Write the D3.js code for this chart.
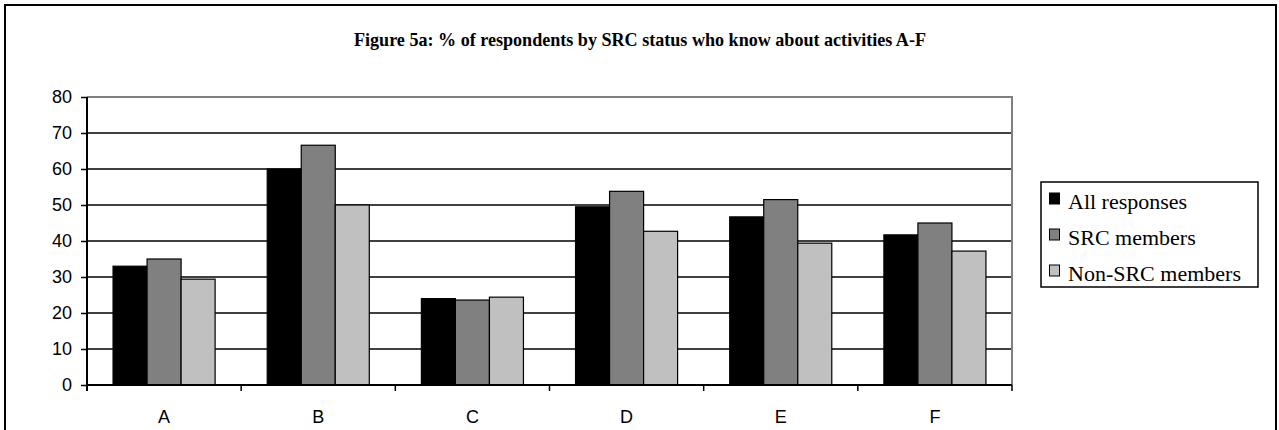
<!DOCTYPE html>
<html><head><meta charset="utf-8">
<script src="https://cdn.jsdelivr.net/npm/d3@7"></script>
<style>html,body{margin:0;padding:0;background:#fff;}svg{display:block;}</style>
</head><body>
<svg id="chart" width="1279" height="430"></svg>
<script>
const categories = ["A", "B", "C", "D", "E", "F"];
const seriesNames = ["All responses", "SRC members", "Non-SRC members"];
const allResponses = [33, 60, 24, 49.5, 46.7, 41.7];
const srcMembers = [35, 66.6, 23.6, 53.8, 51.5, 45];
const nonSrcMembers = [29.4, 50, 24.4, 42.7, 39.4, 37.2];
const yTicks = [0, 10, 20, 30, 40, 50, 60, 70, 80];
const titleText = "Figure 5a: % of respondents by SRC status who know about activities A-F";

(function () {
const seriesValues = [allResponses, srcMembers, nonSrcMembers];
const fills = ["#000000", "#808080", "#c0c0c0"];

const svg = d3.select("#chart");
// outer frame
svg.append("rect").attr("x", 5).attr("y", 5).attr("width", 1271).attr("height", 440)
  .attr("fill", "none").attr("stroke", "#000").attr("stroke-width", 2);

// title
svg.append("text").attr("x", 640).attr("y", 46).attr("text-anchor", "middle")
  .attr("font-family", "Liberation Serif, serif").attr("font-weight", "bold")
  .attr("font-size", 19.5).attr("textLength", 572).attr("lengthAdjust", "spacingAndGlyphs")
  .text(titleText);

const pl = 87, pr = 1012, pt = 97, pb = 385;
const x = d3.scaleBand().domain(categories).range([pl, pr]).paddingInner(0.338).paddingOuter(0.169);
const xs = d3.scaleBand().domain(seriesNames).range([0, x.bandwidth()]);
const y = d3.scaleLinear().domain([0, 80]).range([pb, pt]);

// gridlines
svg.append("g").selectAll("line").data(yTicks.filter(t => t > 0 && t < 80)).join("line")
  .attr("x1", pl).attr("x2", pr).attr("y1", d => y(d)).attr("y2", d => y(d))
  .attr("stroke", "#000").attr("stroke-width", 1.3);

// plot area border (top & right gray)
svg.append("path").attr("d", `M${pl},${y(80)}H${pr}V${pb}`)
  .attr("fill", "none").attr("stroke", "#808080").attr("stroke-width", 2);

// bars
const groups = svg.append("g").selectAll("g").data(categories).join("g")
  .attr("transform", d => `translate(${x(d)},0)`);
groups.selectAll("rect").data((c, i) => seriesNames.map((s, j) => ({s, j, v: seriesValues[j][i]})))
  .join("rect")
  .attr("x", d => xs(d.s)).attr("width", xs.bandwidth())
  .attr("y", d => y(d.v)).attr("height", d => y(0) - y(d.v))
  .attr("fill", d => fills[d.j]).attr("stroke", "#000").attr("stroke-width", 1.2);

// y axis
const yAxis = svg.append("g").attr("transform", `translate(${pl},0)`)
  .call(d3.axisLeft(y).tickValues(yTicks).tickSize(6).tickPadding(9));
yAxis.attr("font-size", null).attr("font-family", null);
yAxis.select(".domain").attr("stroke", "#000").attr("stroke-width", 2).attr("d", `M0,${pt}V${pb + 6}`);
yAxis.selectAll(".tick line").attr("stroke", "#000").attr("stroke-width", 1.5);
yAxis.selectAll("text").attr("font-family", "Liberation Sans, Arial, sans-serif").attr("font-size", 18).attr("fill", "#000");

// x axis
const xAxis = svg.append("g").attr("transform", `translate(0,${pb})`)
  .call(d3.axisBottom(x).tickSize(0).tickPadding(25));
xAxis.attr("font-size", null).attr("font-family", null);
xAxis.select(".domain").attr("stroke", "#000").attr("stroke-width", 2).attr("d", `M${pl},0H${pr}`);
xAxis.selectAll("text").attr("font-family", "Liberation Sans, Arial, sans-serif").attr("font-size", 18).attr("fill", "#000");
// category boundary ticks
svg.append("g").selectAll("line").data(d3.range(categories.length + 1)).join("line")
  .attr("x1", i => pl + i * (pr - pl) / categories.length)
  .attr("x2", i => pl + i * (pr - pl) / categories.length)
  .attr("y1", pb).attr("y2", pb + 6).attr("stroke", "#000").attr("stroke-width", 1.5);

// legend
const lg = svg.append("g");
lg.append("rect").attr("x", 1041).attr("y", 182).attr("width", 217).attr("height", 105)
  .attr("fill", "#fff").attr("stroke", "#000").attr("stroke-width", 1.5);
const items = lg.selectAll("g.item").data(seriesNames).join("g").attr("class", "item")
  .attr("transform", (d, i) => `translate(1049,${209 + i * 36})`);
items.append("rect").attr("x", 0.5).attr("y", -16).attr("width", 10).attr("height", 11)
  .attr("fill", (d, i) => fills[i]).attr("stroke", "#000").attr("stroke-width", 1);
items.append("text").attr("x", 19).attr("y", 0)
  .attr("font-family", "Liberation Serif, serif").attr("font-size", 20).attr("fill", "#000")
  .each(function(d) {
    const t = d3.select(this).text(d);
    const w = this.getComputedTextLength();
    t.attr("textLength", w * 1.1).attr("lengthAdjust", "spacingAndGlyphs");
  });
})();
</script>
</body></html>
